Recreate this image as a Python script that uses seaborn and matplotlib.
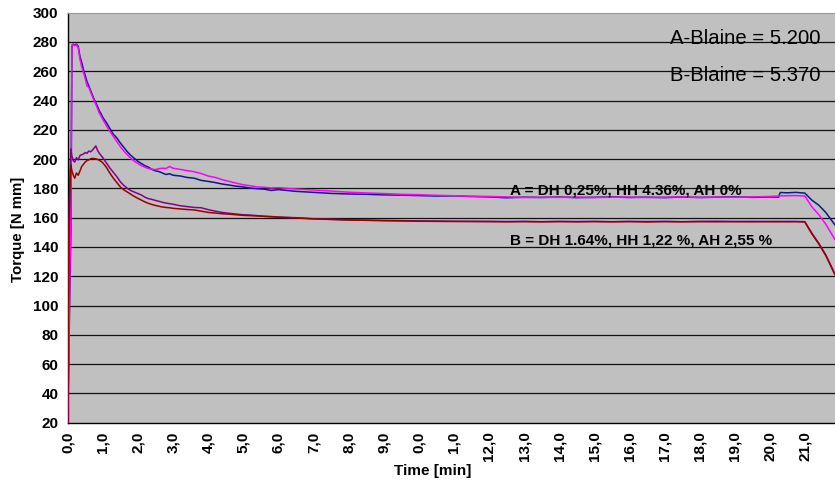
import matplotlib
matplotlib.use("Agg")
import matplotlib.pyplot as plt
import pandas as pd
import seaborn as sns

# Measurement times [min]
time_min = [
    0.00, 0.03, 0.06, 0.09, 0.12, 0.16, 0.20, 0.25, 0.30, 0.35, 0.40, 0.45,
    0.50, 0.55, 0.60, 0.65, 0.70, 0.75, 0.80, 0.85, 0.90, 0.95, 1.00,
    1.1, 1.2, 1.3, 1.4, 1.5, 1.6, 1.7, 1.8, 1.9, 2.0,
    2.1, 2.2, 2.3, 2.4, 2.5, 2.6, 2.7, 2.8, 2.9, 3.0,
    3.2, 3.4, 3.6, 3.8, 4.0, 4.2, 4.4, 4.6, 4.8, 5.0, 5.2, 5.4, 5.6, 5.8, 6.0,
    6.5, 7.0, 7.5, 8.0, 8.5, 9.0, 9.5, 10.0, 10.5, 11.0, 11.5, 12.0, 12.5, 13.0,
    13.5, 14.0, 14.5, 15.0, 15.5, 16.0, 16.5, 17.0, 17.5, 18.0, 18.5, 19.0, 19.5, 20.0,
    20.25, 20.3, 20.5, 20.75, 21.0, 21.2, 21.4, 21.6, 21.86,
]

# Cement A (Blaine 5.200), two runs
torque_a1 = [
    20, 60, 110, 150, 277, 278.5, 278, 278.5, 277, 270, 266, 261, 257, 253, 250, 247,
    244, 241, 238.5, 236, 233, 231, 228.5,
    225, 221, 217, 214.5, 211, 208, 205, 202.5, 200.5, 198.5,
    197, 195.5, 194.5, 193, 192, 191.5, 190.5, 189.5, 190, 189,
    188.5, 187.5, 187, 185.5, 184.8, 184, 183, 182.3, 181.5, 181, 180.2, 179.8, 179.5, 178.6, 179.2,
    178, 177.3, 176.6, 176.2, 176, 175.6, 175.4, 175.1, 174.8, 174.9, 174.5, 174.2, 173.6, 174,
    173.8, 174.1, 173.7, 173.9, 174.2, 173.8, 174, 173.7, 174.1, 173.8, 174, 174.3, 173.9, 174.1,
    174, 177.2, 177, 177.3, 176.8, 172, 168.5, 163.5, 155,
]
torque_a2 = [
    20, 70, 120, 160, 278, 278.5, 277.5, 278, 276, 268, 263, 259, 255, 250, 249, 246,
    243, 240, 237.5, 234.5, 231.5, 229.5, 227,
    223, 219, 215.5, 212, 208.5, 205.5, 203, 200.5, 198.5, 197,
    195.5, 194.5, 193.5, 193.2, 192.8, 193.5, 193.8, 193.6, 195, 193.8,
    193, 192.2, 191.4, 190.2, 188.5, 187.5, 186, 184.8, 183.6, 182.5, 181.8, 181, 180.8, 180.3, 180.5,
    179.6, 178.9, 178.2, 177.4, 176.9, 176.5, 176, 175.7, 175.3, 175, 174.6, 174.5, 174.2, 173.8,
    174, 173.9, 174.1, 173.8, 174, 174.1, 173.8, 174, 174.2, 173.9, 174.1, 174, 174.2, 174.5,
    174.8, 174.9, 175, 175.1, 174.8, 167.5, 162, 155.5, 145,
]

# Cement B (Blaine 5.370), two runs
torque_b2 = [
    20, 130, 185, 207, 202, 199, 198, 201, 199.5, 202.5, 203, 203.5, 204.5, 204, 205.5, 205,
    206, 207.5, 209, 206, 204, 202.5, 201,
    197.5, 194, 191, 188, 184.5, 182, 180, 178.5, 177.5, 176.5,
    175.5, 174, 173, 172.5, 171.8, 171.2, 170.5, 170, 169.6, 169.2,
    168.2, 167.6, 167, 166.8, 165.5, 164.5, 163.6, 163, 162.5, 162, 161.8, 161.4, 161, 160.8, 160.4,
    160, 159.3, 158.9, 158.6, 158.4, 158.2, 158, 157.8, 157.7, 157.6, 157.5, 157.5, 157.4, 157.5,
    157.3, 157.5, 157.4, 157.5, 157.3, 157.5, 157.4, 157.5, 157.3, 157.5, 157.6, 157.4, 157.5, 157.4,
    157.5, 157.4, 157.5, 157.4, 157.3, 149.5, 142.5, 134.5, 121.5,
]
torque_b1 = [
    20, 150, 180, 196, 192, 189, 187, 190.5, 189, 192, 195, 196.5, 198, 199, 199.5, 200.2,
    200.5, 200.4, 200.2, 199.8, 199.2, 198.5, 197.5,
    194.5, 190.5, 187, 184, 181, 179, 177.5, 176, 174.5, 173.2,
    172, 170.8, 169.8, 169, 168.4, 167.8, 167.3, 167, 166.8, 166.4,
    166, 165.6, 165.3, 164.5, 163.6, 163.2, 162.7, 162.4, 162, 161.6, 161.4, 161.2, 160.9, 160.6, 160.4,
    159.8, 159.2, 158.8, 158.4, 158.2, 157.9, 157.8, 157.6, 157.5, 157.4, 157.4, 157.3, 157.2, 157.3,
    157.2, 157.3, 157.2, 157.3, 157.2, 157.3, 157.1, 157.3, 157.2, 157.3, 157.2, 157.3, 157.2, 157.3,
    157.2, 157.3, 157.2, 157.3, 157.1, 149, 142, 134, 121,
]

series_names = ["A1", "A2", "B2", "B1"]
series_colors = ["#0A1A8A", "#FF00FF", "#880088", "#990000"]

x_tick_values = list(range(0, 22))
x_tick_labels = ["0,0", "1,0", "2,0", "3,0", "4,0", "5,0", "6,0", "7,0", "8,0", "9,0",
                 "0,0", "1,0", "12,0", "13,0", "14,0", "15,0", "16,0", "17,0", "18,0",
                 "19,0", "20,0", "21,0"]
y_tick_values = list(range(20, 301, 20))

label_a = "A = DH 0,25%, HH 4.36%, AH 0%"
label_b = "B = DH 1.64%, HH 1,22 %, AH 2,55 %"
blaine_a = "A-Blaine = 5.200"
blaine_b = "B-Blaine = 5.370"

# Long-format table for seaborn
frames = []
for name, vals in zip(series_names, [torque_a1, torque_a2, torque_b2, torque_b1]):
    frames.append(pd.DataFrame({"time": time_min, "torque": vals, "series": name}))
df = pd.concat(frames, ignore_index=True)

sns.set_style("white")
plt.rcParams["font.family"] = ["Liberation Sans", "DejaVu Sans"]
plt.rcParams["text.color"] = "black"
plt.rcParams["xtick.color"] = "black"
plt.rcParams["ytick.color"] = "black"

fig = plt.figure(figsize=(8.35, 4.83), dpi=100)
ax = fig.add_axes([67.7 / 835, 60.3 / 483, (835 - 67.7) / 835, 410 / 483])
ax.set_facecolor("#C0C0C0")

for yv in y_tick_values[1:-1]:
    ax.axhline(yv, color="#111111", lw=0.9, zorder=1)

sns.lineplot(data=df, x="time", y="torque", hue="series", hue_order=series_names,
             palette=dict(zip(series_names, series_colors)), estimator=None, sort=False,
             legend=False, lw=1.1, ax=ax, zorder=3)

ax.set_xlim(0, 21.86)
ax.set_ylim(20, 300)
ax.set_xticks(x_tick_values)
ax.set_xticklabels(x_tick_labels, rotation=90, fontsize=11, fontweight="bold")
ax.set_yticks(y_tick_values)
ax.set_yticklabels([str(v) for v in y_tick_values], fontsize=11, fontweight="bold")
ax.tick_params(axis="y", direction="out", length=4.3, width=1, pad=2.5, color="black",
               labelcolor="black")
ax.tick_params(axis="x", direction="out", length=3.4, width=1, pad=3, color="black",
               labelcolor="black")
ax.set_xlabel("")
ax.set_ylabel("")

for side in ["left", "bottom"]:
    ax.spines[side].set_color("black")
    ax.spines[side].set_linewidth(1.0)
ax.spines["top"].set_color("#9A9A9A")
ax.spines["top"].set_linewidth(0.8)
ax.spines["right"].set_visible(False)

ax.text(12.6, 178.9, label_a, fontsize=11, fontweight="bold", va="center", ha="left",
        color="black", zorder=4)
ax.text(12.6, 144.1, label_b, fontsize=11, fontweight="bold", va="center", ha="left",
        color="black", zorder=4)
ax.text(17.16, 282.5, blaine_a, fontsize=14.6, va="center", ha="left", color="black", zorder=4)
ax.text(17.16, 256.8, blaine_b, fontsize=14.6, va="center", ha="left", color="black", zorder=4)

fig.text(433 / 835, 12 / 483, "Time [min]", fontsize=11, fontweight="bold",
         ha="center", va="center", color="black")
fig.text(18.5 / 835, 1 - 229 / 483, "Torque [N mm]", fontsize=10.8, fontweight="bold",
         ha="center", va="center", rotation=90, color="black")

fig.savefig("out.png", dpi=100)
